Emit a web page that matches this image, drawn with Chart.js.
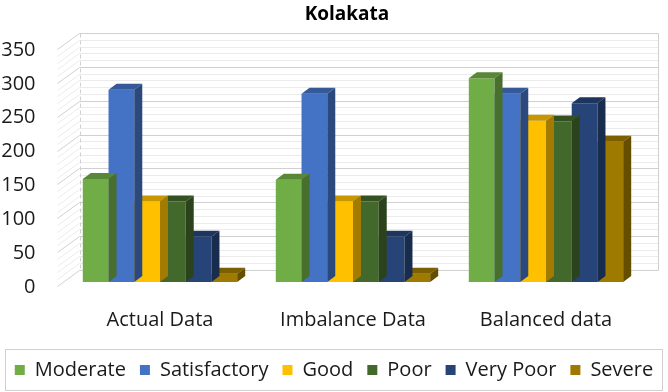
<!DOCTYPE html>
<html>
<head>
<meta charset="utf-8">
<script src="https://cdn.jsdelivr.net/npm/chart.js@4"></script>
<style>
  html, body { margin: 0; padding: 0; background: #fff; }
  #wrap { width: 668px; height: 392px; position: relative; }
</style>
</head>
<body>
<div id="wrap"><canvas id="chart"></canvas></div>
<script>
const categories = ['Actual Data', 'Imbalance Data', 'Balanced data'];
const seriesNames = ['Moderate', 'Satisfactory', 'Good', 'Poor', 'Very Poor', 'Severe'];
const moderate = [152, 151, 301];
const satisfactory = [284, 278, 278];
const good = [119, 119, 238];
const poor = [119, 119, 237];
const veryPoor = [67, 67, 264];
const severe = [12, 12, 207];
const yTicks = [0, 50, 100, 150, 200, 250, 300, 350];

const colors = ['#70AD47', '#4472C4', '#FFC000', '#43682B', '#264478', '#9E7A00'];
const values = [moderate, satisfactory, good, poor, veryPoor, severe];

const FONT = '"Open Sans", "Noto Sans", sans-serif';
// depth of bars and of the walls (px)
const BAR_DX = 8, BAR_DY = 6;
const BACK_DX = 16, BACK_DY = 12;
const FRONT_DX = -6, FRONT_DY = 4;

function shade(hex, f) {
    const n = parseInt(hex.slice(1), 16);
    const r = Math.round(((n >> 16) & 255) * f);
    const g = Math.round(((n >> 8) & 255) * f);
    const b = Math.round((n & 255) * f);
    return `rgb(${r},${g},${b})`;
}

// walls and gridlines behind the bars
const walls = {
    id: 'walls',
    beforeDatasetsDraw(chart) {
        const ctx = chart.ctx;
        const { left, right } = chart.chartArea;
        const y = chart.scales.y;
        ctx.save();
        ctx.lineWidth = 1;
        for (let v = 0; v <= 350; v += 10) {
            const py = Math.round(y.getPixelForValue(v)) + 0.5;
            const major = v % 50 === 0;
            ctx.strokeStyle = major ? '#d0d0d0' : '#ebebeb';
            ctx.beginPath();
            ctx.moveTo(left + FRONT_DX, py + FRONT_DY);
            ctx.lineTo(left + BACK_DX, py - BACK_DY);
            ctx.lineTo(right + BACK_DX, py - BACK_DY);
            ctx.stroke();
        }
        const top = Math.round(y.getPixelForValue(350)) + 0.5 - BACK_DY;
        const bot = Math.round(y.getPixelForValue(0)) + 0.5 - BACK_DY;
        ctx.strokeStyle = '#d0d0d0';
        ctx.beginPath();
        ctx.moveTo(left + BACK_DX, top);
        ctx.lineTo(right + BACK_DX, top);
        ctx.lineTo(right + BACK_DX, bot);
        ctx.stroke();
        ctx.setLineDash([4, 3]);
        ctx.beginPath();
        ctx.moveTo(Math.round(left + BACK_DX) + 0.5, top);
        ctx.lineTo(Math.round(left + BACK_DX) + 0.5, bot);
        ctx.stroke();
        ctx.restore();
    }
};

// top and side faces of each bar
const bars3d = {
    id: 'bars3d',
    afterDatasetDraw(chart, args) {
        const ctx = chart.ctx;
        const base = colors[args.index];
        ctx.save();
        args.meta.data.forEach(bar => {
            const { x, y, base: b, width } = bar.getProps(['x', 'y', 'base', 'width'], true);
            const l = x - width / 2, r = x + width / 2;
            ctx.fillStyle = shade(base, 0.78);
            ctx.beginPath();
            ctx.moveTo(l, y);
            ctx.lineTo(l + BAR_DX, y - BAR_DY);
            ctx.lineTo(r + BAR_DX, y - BAR_DY);
            ctx.lineTo(r, y);
            ctx.closePath();
            ctx.fill();
            ctx.fillStyle = shade(base, 0.64);
            ctx.beginPath();
            ctx.moveTo(r, y);
            ctx.lineTo(r + BAR_DX, y - BAR_DY);
            ctx.lineTo(r + BAR_DX, b - BAR_DY);
            ctx.lineTo(r, b);
            ctx.closePath();
            ctx.fill();
        });
        ctx.restore();
    }
};

const extras = {
    id: 'extras',
    afterDraw(chart) {
        const ctx = chart.ctx;
        ctx.save();
        ctx.fillStyle = '#000';
        ctx.font = `bold 19px ${FONT}`;
        ctx.textAlign = 'center';
        ctx.textBaseline = 'middle';
        ctx.fillText('Kolakata', 347, 15);
        // legend frame
        const hb = chart.legend.legendHitBoxes;
        if (hb.length) {
            const cy = hb[0].top + hb[0].height / 2;
            ctx.strokeStyle = '#d0d0d0';
            ctx.lineWidth = 1;
            ctx.strokeRect(5.5, Math.round(cy - 21) + 0.5, 657, 41);
        }
        ctx.restore();
    }
};

new Chart(document.getElementById('chart'), {
    type: 'bar',
    data: {
        labels: categories,
        datasets: seriesNames.map((name, i) => ({
            label: name,
            data: values[i],
            backgroundColor: colors[i],
            borderWidth: 0,
            categoryPercentage: 0.8,
            barPercentage: 1.0
        }))
    },
    options: {
        responsive: true,
        maintainAspectRatio: false,
        animation: false,
        layout: { padding: { top: 45, right: 0, left: 0, bottom: 2 } },
        plugins: {
            title: { display: false },
            tooltip: { enabled: false },
            legend: {
                position: 'bottom',
                labels: {
                    boxWidth: 10,
                    boxHeight: 10,
                    padding: 14,
                    color: '#1a1a1a',
                    font: { family: FONT, size: 20 }
                }
            }
        },
        scales: {
            x: {
                afterFit(scale) { scale.height = 64; },
                grid: { display: false, drawTicks: false },
                border: { display: false },
                ticks: { color: '#1a1a1a', padding: 26, font: { family: FONT, size: 20 } }
            },
            y: {
                min: 0,
                max: 350,
                afterFit(scale) { scale.width = 63.5; },
                afterBuildTicks(scale) { scale.ticks = yTicks.map(v => ({ value: v })); },
                grid: { display: false, drawTicks: false },
                border: { display: false },
                ticks: { color: '#1a1a1a', padding: 28, labelOffset: 5, autoSkip: false, font: { family: FONT, size: 20 } }
            },
            // empty right axis that only reserves the space right of the plot
            yRight: {
                position: 'right',
                afterFit(scale) { scale.width = 25.5; },
                grid: { display: false, drawTicks: false },
                border: { display: false },
                ticks: { display: false }
            }
        }
    },
    plugins: [walls, bars3d, extras]
});
</script>
</body>
</html>
